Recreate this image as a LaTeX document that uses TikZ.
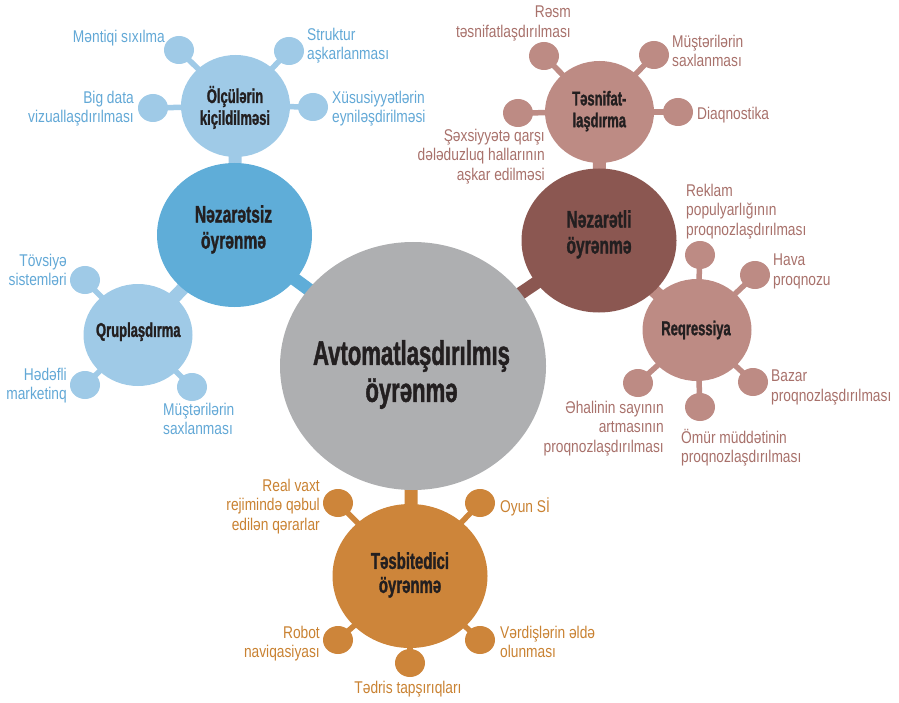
\documentclass[tikz,border=0pt]{standalone}
\usepackage{fontspec}
\setmainfont{Liberation Sans}
\newfontfamily\bfnt[FakeStretch=0.65,FakeBold=1.2]{Liberation Sans}
\newfontfamily\lfnt[FakeStretch=0.81]{Liberation Sans}
\usetikzlibrary{shapes.geometric,backgrounds}
\definecolor{lblue}{HTML}{9FCAE7}
\definecolor{mblue}{HTML}{5FADD8}
\definecolor{cgrey}{HTML}{AEAFB1}
\definecolor{dbrown}{HTML}{8B5751}
\definecolor{rose}{HTML}{BD8B84}
\definecolor{orng}{HTML}{CD853A}
\definecolor{tblue}{HTML}{62A8D6}
\definecolor{trose}{HTML}{A8716B}
\definecolor{torng}{HTML}{C98232}
\definecolor{tdark}{HTML}{231F20}
\begin{document}
\begin{tikzpicture}[x=1pt,y=-1pt,
  ell/.style={ellipse, inner sep=0pt},
  bigc/.style={ell, minimum width=266pt, minimum height=248pt},
  midc/.style={ell, minimum width=155pt, minimum height=144pt},
  smlc/.style={ell, minimum width=109pt, minimum height=102pt},
  sat/.style={ell, minimum width=30pt, minimum height=28pt},
  stem/.style={line width=5.5pt},
  bridge/.style={line width=13pt},
  ttl/.style={inner sep=0pt, anchor=north, align=center, text=tdark},
  ttlA/.style={ttl, font=\bfnt\bfseries\fontsize{34}{37}\selectfont, execute at begin node={\rule{0pt}{27pt}}},
  ttlB/.style={ttl, font=\bfnt\bfseries\fontsize{24}{26}\selectfont, execute at begin node={\rule{0pt}{19pt}}},
  ttlC/.style={ttl, font=\bfnt\bfseries\fontsize{20}{21.8}\selectfont, execute at begin node={\rule{0pt}{16pt}}},
  lab/.style={inner sep=0pt, font=\lfnt\fontsize{17}{19.3}\selectfont, execute at begin node={\rule{0pt}{14pt}}},
  labR/.style={lab, anchor=north east, align=right},
  labL/.style={lab, anchor=north west, align=left},
  labC/.style={lab, anchor=north, align=center}]
\useasboundingbox (0,0) rectangle (899,703);

% ---------- main circles ----------
\node[bigc, fill=cgrey] (auto) at (413,366) {};
\node[midc, fill=mblue] (nz) at (234.5,235) {};
\node[smlc, fill=lblue] (olc) at (235.5,106) {};
\node[smlc, fill=lblue] (qrup) at (138,335) {};
\node[midc, fill=dbrown] (nzl) at (599,240.5) {};
\node[smlc, fill=rose] (tes) at (599.5,112) {};
\node[smlc, fill=rose] (reg) at (697,330) {};
\node[midc, fill=orng] (tesb) at (410,576) {};

% ---------- satellites ----------
\node[sat, fill=lblue] (o1) at (179,50) {};
\node[sat, fill=lblue] (o2) at (289,51) {};
\node[sat, fill=lblue] (o3) at (153,108) {};
\node[sat, fill=lblue] (o4) at (313,107) {};
\node[sat, fill=lblue] (q1) at (85,280) {};
\node[sat, fill=lblue] (q2) at (85,385) {};
\node[sat, fill=lblue] (q3) at (192,387) {};
\node[sat, fill=rose] (t1) at (544,56) {};
\node[sat, fill=rose] (t2) at (654,55) {};
\node[sat, fill=rose] (t3) at (518,113) {};
\node[sat, fill=rose] (t4) at (678,112) {};
\node[sat, fill=rose] (r1) at (700,255) {};
\node[sat, fill=rose] (r2) at (755,275) {};
\node[sat, fill=rose] (r3) at (753,382) {};
\node[sat, fill=rose] (r4) at (700,407) {};
\node[sat, fill=rose] (r5) at (638,383) {};
\node[sat, fill=orng] (b1) at (338,503) {};
\node[sat, fill=orng] (b2) at (480,503) {};
\node[sat, fill=orng] (b3) at (338,640) {};
\node[sat, fill=orng] (b4) at (480,640) {};
\node[sat, fill=orng] (b5) at (410,663) {};

% ---------- connectors ----------
\begin{pgfonlayer}{background}
\draw[bridge, lblue] (olc.center) -- (nz.center);
\draw[bridge, lblue] (qrup.center) -- (nz.center);
\draw[bridge, mblue] (nz.center) -- (auto.center);
\draw[bridge, rose] (tes.center) -- (nzl.center);
\draw[bridge, rose] (reg.center) -- (nzl.center);
\draw[bridge, dbrown] (nzl.center) -- (auto.center);
\draw[bridge, orng] (tesb.center) -- (auto.center);
\foreach \s in {o1,o2,o3,o4} \draw[stem, lblue] (olc.center) -- (\s.center);
\foreach \s in {q1,q2,q3} \draw[stem, lblue] (qrup.center) -- (\s.center);
\foreach \s in {t1,t2,t3,t4} \draw[stem, rose] (tes.center) -- (\s.center);
\foreach \s in {r1,r2,r3,r4,r5} \draw[stem, rose] (reg.center) -- (\s.center);
\foreach \s in {b1,b2,b3,b4,b5} \draw[stem, orng] (tesb.center) -- (\s.center);
\end{pgfonlayer}

% ---------- titles ----------
\node[ttlA] (autoT) at (411.5,340) {Avtomatlaşdırılmış\\öyrənmə};
\node[ttlB] (nzT) at (233.5,205) {Nəzarətsiz\\öyrənmə};
\node[ttlC] (olcT) at (235,85.7) {Ölçülərin\\kiçildilməsi};
\node[ttlC] (qrupT) at (138.3,320.7) {Qruplaşdırma};
\node[ttlB] (nzlT) at (599,210) {Nəzarətli\\öyrənmə};
\node[ttlC] (tesT) at (599.3,90.7) {Təsnifat-\\laşdırma};
\node[ttlC] (regT) at (696,319) {Reqressiya};
\node[ttlB, font=\bfnt\bfseries\fontsize{23}{24}\selectfont, execute at begin node={\rule{0pt}{18pt}}] (tesbT) at (410,552) {Təsbitedici\\öyrənmə};

% ---------- labels: blue ----------
\node[labR, text=tblue] (lo1) at (165,28) {Məntiqi sıxılma};
\node[labL, text=tblue] (lo2) at (307,28) {Struktur\\aşkarlanması};
\node[labR, text=tblue] (lo3) at (134,91) {Big data\\vizuallaşdırılması};
\node[labL, text=tblue] (lo4) at (332,91) {Xüsusiyyətlərin\\eyniləşdirilməsi};
\node[labR, text=tblue] (lq1) at (67,254) {Tövsiyə\\sistemləri};
\node[labR, text=tblue] (lq2) at (67,368) {Hədəfli\\marketinq};
\node[labL, text=tblue] (lq3) at (163,403) {Müştərilərin\\saxlanması};

% ---------- labels: rose ----------
\node[labR, text=trose] (lt1) at (571,6) {Rəsm\\təsnifatlaşdırılması};
\node[labL, text=trose] (lt2) at (672,35) {Müştərilərin\\saxlanması};
\node[labL, text=trose] (lt4) at (697,105) {Diaqnostika};
\node[labR, text=trose] (lt3) at (545,129) {Şəxsiyyətə qarşı\\dələduzluq hallarının\\aşkar edilməsi};
\node[labL, text=trose] (lr1) at (686,184) {Reklam\\populyarlığının\\proqnozlaşdırılması};
\node[labL, text=trose] (lr2) at (773,254) {Hava\\proqnozu};
\node[labL, text=trose] (lr3) at (771,370) {Bazar\\proqnozlaşdırılması};
\node[labL, text=trose] (lr4) at (681,429) {Ömür müddətinin\\proqnozlaşdırılması};
\node[labR, text=trose] (lr5) at (664,401) {Əhalinin sayının\\artmasının\\proqnozlaşdırılması};

% ---------- labels: orange ----------
\node[labR, text=torng] (lb1) at (320,479) {Real vaxt\\rejimində qəbul\\edilən qərarlar};
\node[labL, text=torng] (lb2) at (500,498) {Oyun Sİ};
\node[labR, text=torng] (lb3) at (320,626) {Robot\\naviqasiyası};
\node[labL, text=torng] (lb4) at (500,626) {Vərdişlərin əldə\\olunması};
\node[labC, text=torng] (lb5) at (408,679) {Tədris tapşırıqları};
\end{tikzpicture}
\end{document}
